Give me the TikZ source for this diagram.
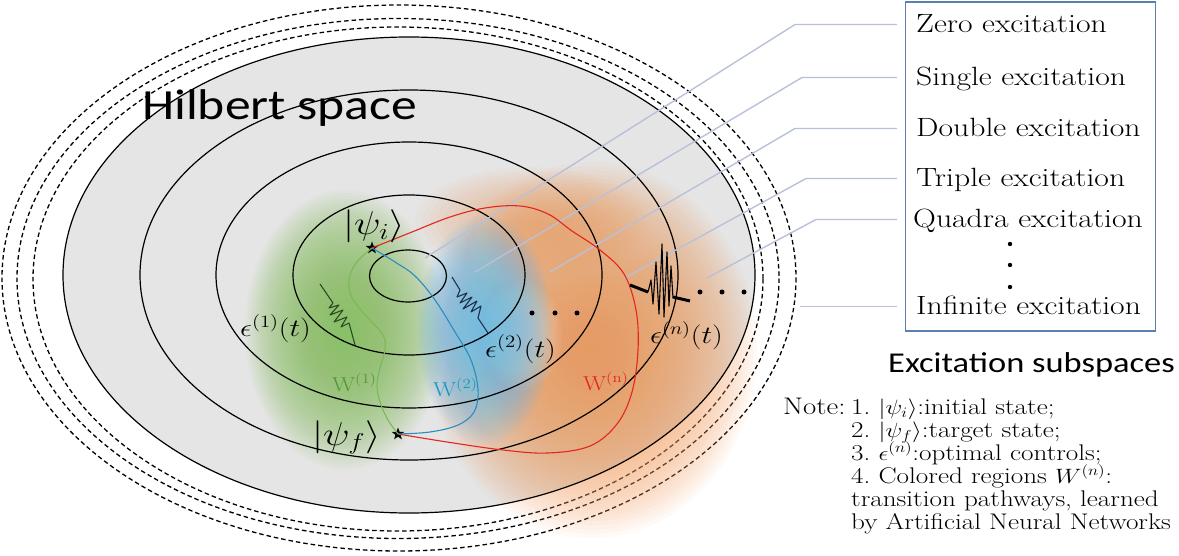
\documentclass[tikz,border=0pt]{standalone}
\usepackage{fontspec}
\usepackage{graphicx}
\usetikzlibrary{shapes.geometric}
\newfontfamily\calibri{Carlito}
\newcommand{\hs}[1]{\scalebox{1.2}[1]{#1}}
\newcommand{\mscale}[3]{\scalebox{#1}[#2]{#3}}
\newcommand{\blobfill}[7]{%
  \foreach \k in {1,...,#6}{%
    \pgfmathsetmacro\brx{#4*\k/#6}\pgfmathsetmacro\bry{#5*\k/#6}%
    \fill[#1, fill opacity=#7] (#2,#3) ellipse [x radius=\brx, y radius=\bry];}}
\definecolor{bggray}{HTML}{E5E5E5}
\definecolor{leadercol}{HTML}{B9C1D9}
\definecolor{boxblue}{HTML}{5A80B2}
\definecolor{wred}{HTML}{E3261F}
\definecolor{wblue}{HTML}{2B8CC4}
\definecolor{wgreen}{HTML}{7BB856}
\definecolor{lgreen}{HTML}{4F9A32}
\definecolor{lblue}{HTML}{1596C4}
\definecolor{blobg}{RGB}{138,192,98}
\definecolor{blobb}{RGB}{112,188,238}
\definecolor{bloborange}{RGB}{241,156,95}
\begin{document}
\begin{tikzpicture}[x=1pt,y=-1pt,
  ring/.style={draw=black, line width=1.2pt},
  dring/.style={draw=black, line width=1.3pt, dash pattern=on 4.5pt off 3pt},
  leader/.style={draw=leadercol, line width=1.4pt},
  boxlbl/.style={anchor=base west, inner sep=0pt, text height=17pt, text depth=0pt, font=\fontsize{26.4}{30}\selectfont},
  notelbl/.style={anchor=base west, inner sep=0pt, text height=15pt, text depth=4pt, font=\fontsize{22.6}{26}\selectfont},
  mathlbl/.style={anchor=base west, inner sep=0pt, font=\fontsize{20.74}{24}\selectfont},
  starnode/.style={star, star points=5, star point ratio=2.4, fill=black, inner sep=0pt, minimum size=13pt},
  wpath/.style={line width=1.1pt}
]
\useasboundingbox (0,0) rectangle (1179,556);
% dashed outer ellipses
\draw[dring] (398,279) ellipse [x radius=365, y radius=252];
\draw[dring] (398,278.5) ellipse [x radius=381, y radius=260];
\draw[dring] (399,278) ellipse [x radius=397, y radius=273];
% gray Hilbert space
\fill[bggray] (409,275) ellipse [x radius=346, y radius=238];
% glows
\blobfill{white}{450}{305}{260}{205}{24}{0.035}
\blobfill{bloborange}{592}{350}{165}{188}{45}{0.05}
\blobfill{bloborange}{530}{222}{115}{55}{16}{0.05}
\blobfill{white}{522}{335}{40}{55}{14}{0.05}
\blobfill{blobg}{345}{330}{100}{140}{45}{0.05}
\blobfill{blobb}{485}{330}{68}{115}{45}{0.05}
% rings
\draw[ring] (409,275) ellipse [x radius=346, y radius=238];
\draw[ring] (409,275) ellipse [x radius=269, y radius=185];
\draw[ring] (409,275) ellipse [x radius=193, y radius=133];
\draw[ring] (409,275) ellipse [x radius=116, y radius=80];
\draw[ring] (408,276) ellipse [x radius=38.5, y radius=26];
% labels of box
\node[draw=boxblue, line width=1.1pt, minimum width=250pt, minimum height=329pt, anchor=north west, inner sep=0pt] (box) at (905,1.5) {};
\node[boxlbl] (lz) at (916,33) {\hs{Zero excitation}};
\node[boxlbl] (ls) at (916,86) {\hs{Single excitation}};
\node[boxlbl] (ld) at (916,137) {\hs{Double excitation}};
\node[boxlbl] (lt) at (916,187) {\hs{Triple excitation}};
\node[boxlbl] (lq) at (913,228) {\hs{Quadra excitation}};
\node[boxlbl] (li) at (916,315) {\hs{Infinite excitation}};
\fill (1010,244) circle (2.2) (1010,265) circle (2.2) (1010,287) circle (2.2);
% leader lines
\coordinate (ez0) at (425,258);
\coordinate (ez1) at (475,272);
\coordinate (ez2) at (550,272);
\coordinate (ez3) at (625,278);
\coordinate (ez4) at (707,278);
\draw[leader] ([xshift=-19pt]lz.west) -- ++(-102,0) -- (ez0);
\draw[leader] ([xshift=-19pt]ls.west) -- ++(-95,0) -- (ez1);
\draw[leader] ([xshift=-19pt]ld.west) -- ++(-102,0) -- (ez2);
\draw[leader] ([xshift=-19pt]lt.west) -- ++(-91,0) -- (ez3);
\draw[leader] ([xshift=-16pt]lq.west) -- ++(-81,0) -- (ez4);
\draw[leader] ([xshift=-19pt]li.west) -- ++(-97,0);
% stars
\node[starnode] (psii) at (372,248) {};
\node[starnode] (psif) at (398,434) {};
% pathways
\draw[wpath, wred] plot[smooth, tension=0.6] coordinates {(psii.center) (412,232) (450,217) (485,208) (520,206) (548,214) (572,231) (600,250) (624,274) (636,310) (638,350) (632,392) (617,424) (590,446) (548,453) (503,450) (447,442) (psif.center)};
\draw[wpath, wblue] plot[smooth, tension=0.6] coordinates {(psii.center) (395,262) (415,276) (435,300) (455,332) (471,360) (478,390) (474,412) (458,425) (430,432) (psif.center)};
\draw[wpath, wgreen] plot[smooth, tension=0.6] coordinates {(psii.center) (356,263) (349,280) (352,298) (368,318) (383,335) (385,350) (380,368) (377,385) (380,402) (388,420) (psif.center)};
% control signals
\draw[line width=1.1pt, draw={rgb,255:red,45;green,74;blue,37}, line join=round] (320,284) -- (333,303) -- (329,308) -- (339,305) -- (330,315) -- (343,310) -- (334,322) -- (347,317) -- (341,327) -- (349,323) -- (355,345);
\draw[line width=1.1pt, draw={rgb,255:red,29;green,48;blue,80}, line join=round] (452,277) -- (460,290) -- (457,297) -- (467,293) -- (460,303) -- (472,297) -- (463,309) -- (477,301) -- (471,312) -- (481,306) -- (478,318) -- (488,333);
\draw[line width=3pt] (630,285) -- (648,292);
\draw[line width=1.1pt, line join=round] (648,292) -- (651,280) -- (653,304) -- (656,262) -- (659,314) -- (662,244) -- (664,317) -- (667,252) -- (669,306) -- (671,266) -- (673,298);
\draw[line width=3pt] (673,297) -- (690,301);
% dots
\fill (532,313) circle (2.5) (555,313) circle (2.5) (577,313) circle (2.5);
\fill (700,292) circle (2.5) (722,292) circle (2.5) (744,292) circle (2.5);
% math labels
\node[mathlbl] (lpsii) at (343,235) {\mscale{1.91}{1.59}{$|\psi_i\rangle$}};
\node[mathlbl] (lpsif) at (312,445) {\mscale{1.91}{1.59}{$|\psi_f\rangle$}};
\node[mathlbl] (le1) at (240,337) {\mscale{1.45}{1.2}{$\epsilon^{(1)}(t)$}};
\node[mathlbl] (le2) at (485,357) {\mscale{1.45}{1.2}{$\epsilon^{(2)}(t)$}};
\node[mathlbl] (len) at (650,344) {\mscale{1.45}{1.2}{$\epsilon^{(n)}(t)$}};
\node[mathlbl, text=lgreen] (lw1) at (332,391) {\mscale{1.16}{0.97}{$\mathrm{W}^{(1)}$}};
\node[mathlbl, text=lblue] (lw2) at (433,396) {\mscale{1.16}{0.97}{$\mathrm{W}^{(2)}$}};
\node[mathlbl, text=wred] (lwn) at (583,390) {\mscale{1.16}{0.97}{$\mathrm{W}^{(\mathrm{n})}$}};
% titles
\node[anchor=base west, inner sep=0pt, font=\calibri\fontsize{43}{50}\selectfont] (hil) at (142,120) {\hs{Hilbert space}};
\node[anchor=base west, inner sep=0pt, font=\calibri\fontsize{28.7}{34}\selectfont] (exc) at (888,372) {\hs{Excitation subspaces}};
% note
\node[notelbl, font=\fontsize{24}{28}\selectfont] (note) at (783,414) {\hs{Note:}};
\node[notelbl] (n1) at (851,414) {\hs{1.\ $|\psi_i\rangle$:initial state;}};
\node[notelbl] (n2) at (851,437) {\hs{2.\ $|\psi_f\rangle$:target state;}};
\node[notelbl] (n3) at (851,460) {\hs{3.\ $\epsilon^{(n)}$:optimal controls;}};
\node[notelbl] (n4) at (851,483) {\hs{4.\ Colored regions $W^{(n)}$:}};
\node[notelbl] (n5) at (851,506) {\hs{transition pathways, learned}};
\node[notelbl] (n6) at (851,529) {\hs{by Artificial Neural Networks}};
\end{tikzpicture}
\end{document}
